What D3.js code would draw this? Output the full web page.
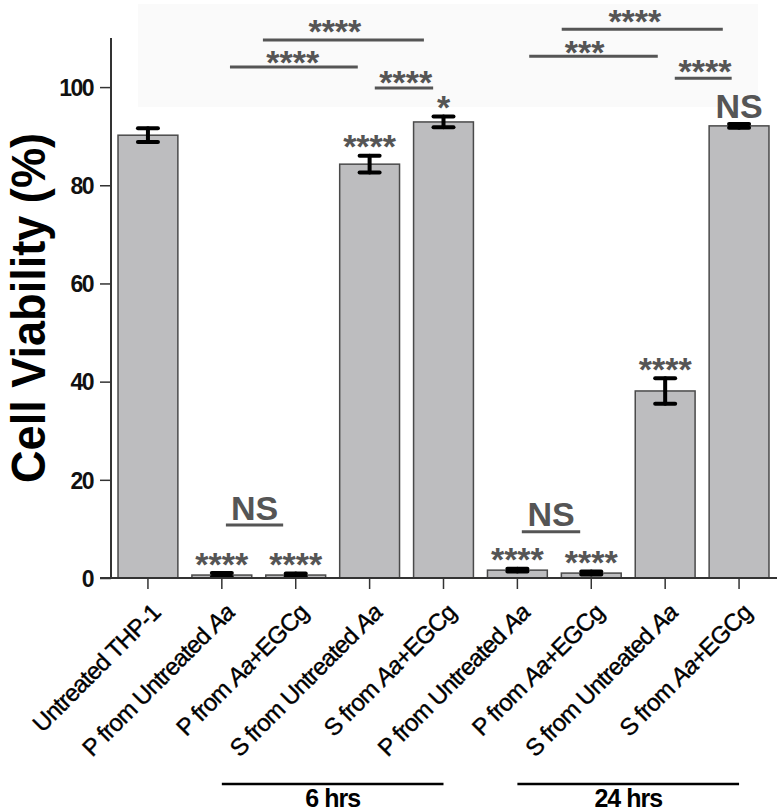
<!DOCTYPE html>
<html>
<head>
<meta charset="utf-8">
<script src="https://cdn.jsdelivr.net/npm/d3@7"></script>
<style>
  html, body { margin: 0; padding: 0; background: #fff; }
  svg { display: block; font-family: "Liberation Sans", Arial, sans-serif; }
</style>
</head>
<body>
<svg id="chart" width="783" height="812"></svg>
<script>
// ---------- data ----------
const categories = [
  ["Untreated THP-1"],
  ["P from Untreated ", "Aa"],
  ["P from ", "Aa", "+EGCg"],
  ["S from Untreated ", "Aa"],
  ["S from ", "Aa", "+EGCg"],
  ["P from Untreated ", "Aa"],
  ["P from ", "Aa", "+EGCg"],
  ["S from Untreated ", "Aa"],
  ["S from ", "Aa", "+EGCg"]
];
const viability = [90.2, 0.6, 0.6, 84.3, 92.9, 1.6, 1.0, 38.1, 92.1];
const errors    = [1.4, 0.4, 0.3, 1.7, 1.1, 0.3, 0.3, 2.6, 0.4];
const barMarks  = ["", "****", "****", "****", "*", "****", "****", "****", "NS"];
const yTicks    = [0, 20, 40, 60, 80, 100];
const yLabel    = "Cell Viability (%)";
// comparison brackets: [from index, to index, level (% units), label, label index, label level]
const brackets = [
  [1.556, 3.735, 109.6, "****", 2.53, 111.7],
  [1.11, 2.84, 104.1, "****", 1.96, 105.5],
  [3.07, 3.86, 99.8, "****", 3.49, 101.4],
  [5.16, 6.90, 106.3, "***", 5.91, 107.5],
  [5.60, 7.78, 111.8, "****", 6.59, 113.8],
  [7.13, 7.90, 101.8, "****", 7.54, 103.7]
];
// NS comparisons between pellet pairs: [from, to, underline level, label level]
const nsPairs = [
  [1.055, 1.83, 10.8, 11.8],
  [5.06, 5.85, 9.4, 10.6]
];
// time groups: [first index, last index, label]
const groups = [
  [1, 4, "6 hrs"],
  [5, 8, "24 hrs"]
];

// ---------- layout ----------
const svg = d3.select("#chart");
const gray = "#555";

const x = d3.scaleBand()
  .domain(d3.range(categories.length))
  .range([111, 776])
  .paddingInner(0.19)
  .paddingOuter(0.095);
const bw = x.bandwidth();
const cx = i => x(i) + bw / 2;
const xi = d3.scaleLinear().domain([0, 8]).range([cx(0), cx(8)]);

const y = d3.scaleLinear().domain([0, 110]).range([578, 38]);

// faint background panel
svg.append("rect")
  .attr("x", 138).attr("y", 4).attr("width", 620).attr("height", 103)
  .attr("fill", "#fafafa");

// bars
svg.append("g").selectAll("rect").data(viability).join("rect")
  .attr("x", (d, i) => x(i))
  .attr("y", d => y(d))
  .attr("width", bw)
  .attr("height", d => y(0) - y(d))
  .attr("fill", "#bdbdbf")
  .attr("stroke", "#4a4a4a")
  .attr("stroke-width", 1.5);

// error bars
const eb = svg.append("g").attr("stroke", "#000").attr("stroke-width", 4).attr("stroke-linecap", "round");
viability.forEach((v, i) => {
  const e = errors[i];
  const c = cx(i);
  eb.append("line").attr("x1", c).attr("x2", c).attr("y1", y(v - e)).attr("y2", y(v + e));
  eb.append("line").attr("x1", c - 10).attr("x2", c + 10).attr("y1", y(v - e)).attr("y2", y(v - e));
  eb.append("line").attr("x1", c - 10).attr("x2", c + 10).attr("y1", y(v + e)).attr("y2", y(v + e));
});

// y axis
const yAxis = svg.append("g").attr("transform", "translate(111,0)")
  .call(d3.axisLeft(y).tickValues(yTicks).tickSize(11).tickPadding(7).tickSizeOuter(0));
yAxis.select(".domain").attr("stroke", "#333").attr("stroke-width", 2)
  .attr("d", `M0,${y(110)}V${y(0)}`);
yAxis.selectAll(".tick line").attr("stroke", "#333").attr("stroke-width", 1.5);
yAxis.selectAll(".tick text")
  .attr("font-family", "Liberation Sans, Arial, sans-serif")
  .attr("font-size", 23).attr("font-weight", "bold").attr("fill", "#111")
  .attr("letter-spacing", "-1.5px").attr("dy", "0.36em");

// x axis
const xAxis = svg.append("g").attr("transform", `translate(0,${y(0)})`)
  .call(d3.axisBottom(x).tickSize(11).tickFormat(() => "").tickSizeOuter(0));
xAxis.select(".domain").attr("stroke", "#333").attr("stroke-width", 2).attr("d", "M100,0H777");
xAxis.selectAll(".tick line").attr("stroke", "#333").attr("stroke-width", 1.5);

// x labels (rotated)
const xl = svg.append("g");
categories.forEach((parts, i) => {
  const t = xl.append("text")
    .attr("transform", `translate(${cx(i) + 14},${614}) rotate(-45)`)
    .attr("text-anchor", "end")
    .attr("font-size", 24)
    .attr("letter-spacing", "-0.8px")
    .attr("fill", "#000")
    .attr("stroke", "#000").attr("stroke-width", 0.4);
  parts.forEach(p => {
    t.append("tspan").text(p).attr("font-style", p === "Aa" ? "italic" : "normal");
  });
});

// y axis title
svg.append("text")
  .attr("transform", `translate(45,${(133 + 483) / 2}) rotate(-90)`)
  .attr("text-anchor", "middle")
  .attr("font-size", 48).attr("font-weight", "bold")
  .attr("textLength", 350).attr("lengthAdjust", "spacingAndGlyphs")
  .attr("fill", "#000")
  .text(yLabel);

// significance marks
const starFs = 34;
const starBase = c => c + 0.40 * starFs;
const ann = svg.append("g").attr("fill", gray).attr("font-weight", "bold").attr("text-anchor", "middle");

brackets.forEach(([a, b, lvl, lab, li, ll]) => {
  ann.append("line").attr("x1", xi(a)).attr("x2", xi(b)).attr("y1", y(lvl)).attr("y2", y(lvl))
    .attr("stroke", gray).attr("stroke-width", 3);
  ann.append("text").attr("x", xi(li)).attr("y", starBase(y(ll)))
    .attr("font-size", starFs).text(lab);
});

barMarks.forEach((m, i) => {
  if (!m) return;
  const top = y(viability[i] + errors[i]);
  if (m === "NS") {
    ann.append("text").attr("x", cx(i)).attr("y", top - 6).attr("font-size", 34).text(m);
  } else {
    ann.append("text").attr("x", cx(i)).attr("y", starBase(top - 11)).attr("font-size", starFs).text(m);
  }
});

nsPairs.forEach(([a, b, ul, tl]) => {
  ann.append("line").attr("x1", xi(a)).attr("x2", xi(b)).attr("y1", y(ul)).attr("y2", y(ul))
    .attr("stroke", gray).attr("stroke-width", 3);
  ann.append("text").attr("x", (xi(a) + xi(b)) / 2).attr("y", y(tl)).attr("font-size", 34).text("NS");
});

// time groups
const gg = svg.append("g");
groups.forEach(([a, b, lab]) => {
  gg.append("line").attr("x1", cx(a)).attr("x2", cx(b)).attr("y1", 784).attr("y2", 784)
    .attr("stroke", "#000").attr("stroke-width", 2.5);
  gg.append("text").attr("x", (cx(a) + cx(b)) / 2).attr("y", 807)
    .attr("text-anchor", "middle").attr("font-size", 25).attr("font-weight", "bold")
    .attr("letter-spacing", "-1px").attr("fill", "#000").text(lab);
});
</script>
</body>
</html>
